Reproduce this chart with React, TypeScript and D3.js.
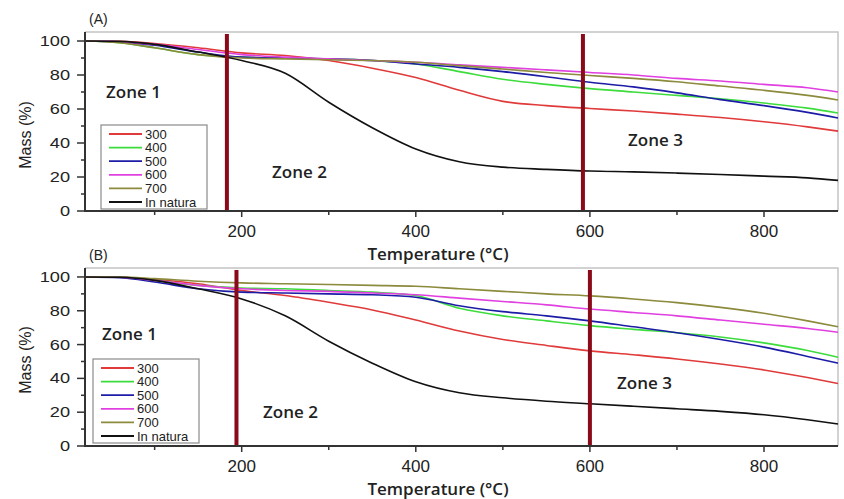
import * as d3 from "d3";

// temperature grid (°C) the curves were read at
const temps = [20, 60, 100, 150, 200, 250, 300, 350, 400, 450, 500, 550, 600, 650, 700, 750, 800, 850, 885];

const seriesNames = ["300", "400", "500", "600", "700", "In natura"];
const seriesColors = ["#e03a3a", "#3ddc3d", "#1c1ca6", "#e040e0", "#8c8a3c", "#111111"];

// panel A mass (%)
const massA300 = [100, 99.8, 98.5, 96, 93, 91.5, 88.5, 84, 78.5, 71, 64.5, 62, 60.3, 58.8, 57, 55, 52.5, 49.5, 47];
const massA400 = [100, 99, 96, 92, 90.5, 90, 89.5, 88.5, 86.5, 82, 77.5, 74.5, 72, 70, 68, 66, 63.5, 60.5, 57.6];
const massA500 = [100, 99.5, 97.5, 93.5, 90.5, 90, 89.5, 88.5, 86.5, 84.5, 82, 79, 75.7, 73, 69.5, 65.5, 62, 58, 54.7];
const massA600 = [100, 99.5, 98, 95, 92, 90.5, 89.5, 88.5, 87.5, 86, 84.5, 83, 81.5, 80, 78, 76.5, 74.5, 72.5, 70];
const massA700 = [100, 99, 96, 92, 90, 89.5, 89, 88.5, 87.5, 85.5, 83.5, 81.5, 79.7, 78, 76, 73.5, 71, 68, 65.3];
const massANatura = [100, 99.8, 98, 93.5, 88.5, 81, 64, 49, 36.5, 29, 25.8, 24.5, 23.5, 23, 22.3, 21.5, 20.5, 19.5, 18];

// panel B mass (%)
const massB300 = [100, 99.8, 98.5, 96, 92, 89, 85, 80.5, 74.5, 68, 63, 59.5, 56.3, 54, 51.5, 48.5, 45, 40.5, 37];
const massB400 = [100, 99.8, 98, 95, 93.5, 93, 92, 91, 89, 81.5, 77, 74, 71.2, 69, 67, 64.5, 61, 56.5, 52.5];
const massB500 = [100, 99.5, 97, 93, 91, 90.5, 90, 89.5, 88, 83, 79.5, 77, 74, 70.5, 67, 63, 58.5, 53, 49];
const massB600 = [100, 99.8, 98, 95, 93, 92, 91.5, 90.5, 89.5, 87.5, 85.5, 83.5, 81, 79, 77, 74.5, 72, 69.5, 67.3];
const massB700 = [100, 100, 99, 97.5, 96.5, 96, 95.5, 95, 94.5, 93, 91.5, 90, 88.8, 87, 84.8, 82, 78.5, 74, 70.5];
const massBNatura = [100, 99.8, 98, 93, 87, 77, 62, 49, 38, 31.5, 28.5, 26.5, 25, 23.5, 22, 20.5, 18.5, 15.5, 13];

// zone boundaries (°C)
const zonesA = [183, 592];
const zonesB = [194, 600];

const xMajor = [200, 400, 600, 800];
const xMinor = [100, 300, 500, 700];
const yMajor = [0, 20, 40, 60, 80, 100];
const yMinor = [10, 30, 50, 70, 90];

const tickFont = "'Liberation Sans', Arial, sans-serif";
const titleFont = "'Open Sans', 'Noto Sans', sans-serif";

type PanelProps = {
  tag: string;
  top: number;
  bottom: number;
  series: number[][];
  zones: number[];
  zoneLabels: { x: number; y: number; text: string }[];
  legend: { x: number; y: number };
  massY: number;
};

function Panel({ tag, top, bottom, series, zones, zoneLabels, legend, massY }: PanelProps) {
  const left = 85;
  const right = 838;
  const x = d3.scaleLinear().domain([20, 885]).range([left, right]);
  const y = d3.scaleLinear().domain([0, 105.3]).range([bottom, top]);

  const line = d3
    .line<number>()
    .x((_, i) => x(temps[i]))
    .y((d) => y(d))
    .curve(d3.curveMonotoneX);

  return (
    <g>
      {/* frame */}
      <path d={`M${left},${top}H${right}V${bottom}`} fill="none" stroke="#c4c4c4" strokeWidth={1.5} />

      {/* curves */}
      {series.map((s, i) => (
        <path key={i} d={line(s) || ""} fill="none" stroke={seriesColors[i]} strokeWidth={1.6} />
      ))}

      {/* zone boundaries */}
      {zones.map((z) => (
        <line key={z} x1={x(z)} x2={x(z)} y1={top + 2} y2={bottom} stroke="#8b0a1a" strokeWidth={4} />
      ))}

      {/* axes */}
      <line x1={left} x2={left} y1={top} y2={bottom} stroke="#333" strokeWidth={2} />
      <line x1={left - 1} x2={right} y1={bottom} y2={bottom} stroke="#333" strokeWidth={2} />

      {yMajor.map((v) => (
        <g key={v}>
          <line x1={left - 8} x2={left} y1={y(v)} y2={y(v)} stroke="#333" strokeWidth={1.5} />
          <text
            transform={`translate(${left - 15},${y(v) + 5}) scale(1.3,1)`}
            textAnchor="end"
            fontFamily={tickFont}
            fontSize={14}
            fill="#222"
          >
            {v}
          </text>
        </g>
      ))}
      {yMinor.map((v) => (
        <line key={v} x1={left - 4} x2={left} y1={y(v)} y2={y(v)} stroke="#333" strokeWidth={1.5} />
      ))}

      {xMajor.map((v) => (
        <g key={v}>
          <line x1={x(v)} x2={x(v)} y1={bottom} y2={bottom + 6} stroke="#333" strokeWidth={1.5} />
          <text x={x(v)} y={bottom + 26} textAnchor="middle" fontFamily={tickFont} fontSize={17} fill="#222">
            {v}
          </text>
        </g>
      ))}
      {xMinor.map((v) => (
        <line key={v} x1={x(v)} x2={x(v)} y1={bottom} y2={bottom + 4} stroke="#333" strokeWidth={1.5} />
      ))}

      <text
        x={438}
        y={bottom + 49}
        textAnchor="middle"
        fontFamily={titleFont}
        fontWeight={600}
        fontSize={17}
        fill="#222"
      >
        Temperature (°C)
      </text>
      <text
        transform={`translate(31,${massY}) rotate(-90)`}
        textAnchor="middle"
        fontFamily={tickFont}
        fontSize={16}
        fill="#222"
      >
        Mass (%)
      </text>
      <text x={89} y={top - 8} fontFamily={tickFont} fontSize={14} fill="#222">
        {tag}
      </text>

      {zoneLabels.map((z) => (
        <text key={z.text} x={z.x} y={z.y} fontFamily={titleFont} fontWeight={600} fontSize={17} fill="#222">
          {z.text}
        </text>
      ))}

      {/* legend */}
      <g transform={`translate(${legend.x},${legend.y})`}>
        <rect x={0} y={0} width={106} height={84} fill="#fff" stroke="#8a8a8a" strokeWidth={1.2} />
        {seriesNames.map((n, i) => (
          <g key={n} transform={`translate(0,${9 + i * 13.6})`}>
            <line x1={8} x2={41} y1={0} y2={0} stroke={seriesColors[i]} strokeWidth={1.8} />
            <text x={44} y={4.5} fontFamily={tickFont} fontSize={13} fill="#222">
              {n}
            </text>
          </g>
        ))}
      </g>
    </g>
  );
}

export default function App() {
  return (
    <svg
      width={844}
      height={499}
      style={{ position: "absolute", left: 0, top: 0, background: "#fff" }}
    >
      <Panel
        tag="(A)"
        top={32}
        bottom={211}
        series={[massA300, massA400, massA500, massA600, massA700, massANatura]}
        zones={zonesA}
        zoneLabels={[
          { x: 106, y: 98, text: "Zone 1" },
          { x: 272, y: 178, text: "Zone 2" },
          { x: 628, y: 146, text: "Zone 3" },
        ]}
        legend={{ x: 101, y: 125 }}
        massY={135}
      />
      <Panel
        tag="(B)"
        top={268}
        bottom={446}
        series={[massB300, massB400, massB500, massB600, massB700, massBNatura]}
        zones={zonesB}
        zoneLabels={[
          { x: 102, y: 340, text: "Zone 1" },
          { x: 263, y: 418, text: "Zone 2" },
          { x: 617, y: 389, text: "Zone 3" },
        ]}
        legend={{ x: 93, y: 359 }}
        massY={360}
      />
    </svg>
  );
}
